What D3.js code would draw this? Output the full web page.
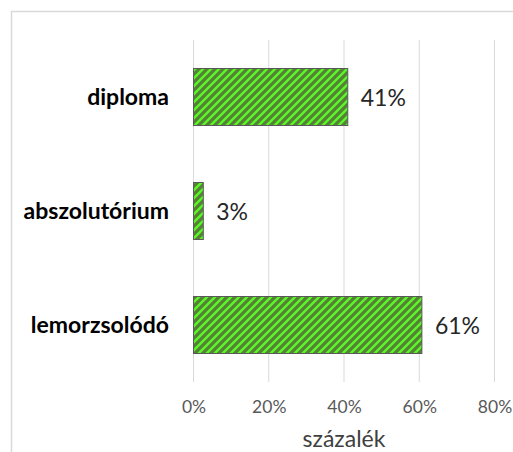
<!DOCTYPE html>
<html><head><meta charset="utf-8">
<script src="https://cdn.jsdelivr.net/npm/d3@7"></script>
<style>body{margin:0;background:#fff}svg{display:block}</style>
</head><body>
<script>
const categories = ["diploma", "abszolutórium", "lemorzsolódó"];
const values = [0.41, 0.026, 0.607];
const valueLabels = ["41%", "3%", "61%"];
const ticks = [0, 0.2, 0.4, 0.6, 0.8];
const axisTitle = "százalék";

const W = 513, H = 452;
const svg = d3.select("body").append("svg").attr("width", W).attr("height", H);
const font = "Lato, 'Open Sans', sans-serif";

const defs = svg.append("defs");
const pat = defs.append("pattern").attr("id", "hatch").attr("patternUnits", "userSpaceOnUse")
  .attr("width", 8).attr("height", 8);
pat.append("rect").attr("width", 8).attr("height", 8).attr("fill", "#548235");
pat.append("path").attr("d", "M-2,2 L2,-2 M0,8 L8,0 M6,10 L10,6")
  .attr("stroke", "#5cf52a").attr("stroke-width", 2.4);

// border
svg.append("path").attr("d", "M11.5,452 V11.5 H513").attr("fill", "none")
  .attr("stroke", "#d9d9d9").attr("stroke-width", 1.5);

const x = d3.scaleLinear().domain([0, 0.8]).range([193.5, 494.5]);
const y = d3.scaleBand().domain(categories).range([40, 382]).paddingInner(0.5).paddingOuter(0.25);

// grid
svg.append("g").selectAll("line").data(ticks).join("line")
  .attr("x1", d => x(d)).attr("x2", d => x(d)).attr("y1", 40).attr("y2", 382)
  .attr("stroke", "#d9d9d9").attr("stroke-width", 1);

// bars
svg.append("g").selectAll("rect").data(categories).join("rect")
  .attr("x", x(0)).attr("y", d => y(d))
  .attr("width", (d, i) => x(values[i]) - x(0)).attr("height", y.bandwidth())
  .attr("fill", "url(#hatch)").attr("stroke", "#595959").attr("stroke-width", 1);

// value labels
svg.append("g").selectAll("text").data(categories).join("text")
  .attr("x", (d, i) => x(values[i]) + 13).attr("y", d => y(d) + y.bandwidth() / 2 + 1)
  .attr("dy", "0.35em").attr("font-family", font).attr("font-size", 23).attr("fill", "#262626")
  .text((d, i) => valueLabels[i]);

// category labels
svg.append("g").selectAll("text").data(categories).join("text")
  .attr("x", 169).attr("y", d => y(d) + y.bandwidth() / 2)
  .attr("dy", "0.35em").attr("text-anchor", "end").attr("font-family", font)
  .attr("font-weight", "bold").attr("font-size", 23).attr("fill", "#000")
  .text(d => d);

// x axis tick labels
const xAxis = d3.axisBottom(x).tickValues(ticks).tickFormat(d3.format(".0%")).tickSize(0).tickPadding(0);
const gx = svg.append("g").attr("transform", "translate(0,413)").call(xAxis);
gx.select(".domain").remove();
gx.selectAll("text").attr("y", 0).attr("dy", 0)
  .attr("font-family", font).attr("font-size", 17.5).attr("fill", "#595959");

svg.append("text").attr("x", x(0.4)).attr("y", 447).attr("text-anchor", "middle")
  .attr("font-family", font).attr("font-size", 23).attr("fill", "#404040").text(axisTitle);
</script>
</body></html>
